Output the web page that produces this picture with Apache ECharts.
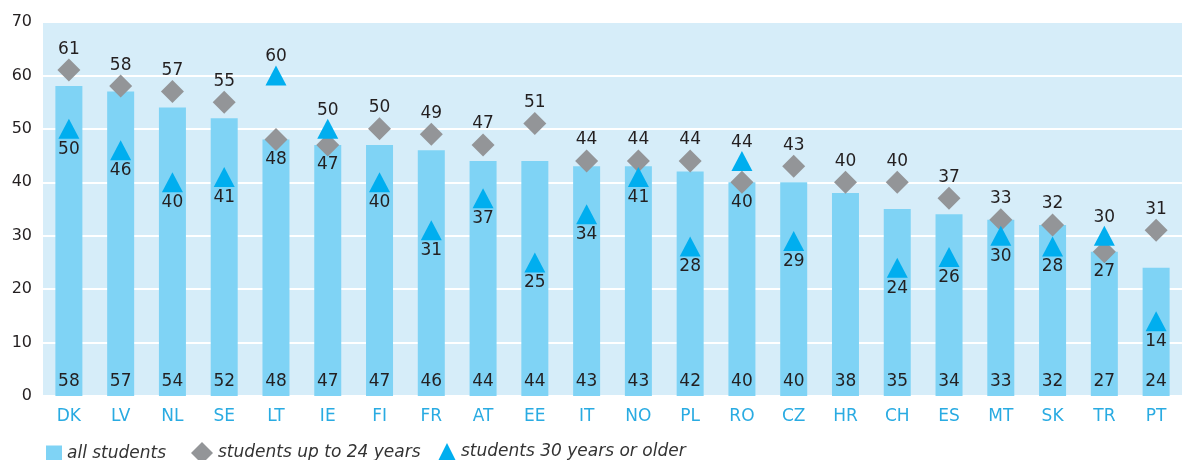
<!DOCTYPE html>
<html>
<head>
<meta charset="utf-8">
<script src="https://cdn.jsdelivr.net/npm/echarts@6/dist/echarts.min.js"></script>
<style>
  html, body { margin: 0; padding: 0; background: #ffffff; }
  #chart { width: 1182px; height: 460px; }
</style>
</head>
<body>
<div id="chart"></div>
<script>
// Country codes along the category axis
const countries = ['DK', 'LV', 'NL', 'SE', 'LT', 'IE', 'FI', 'FR', 'AT', 'EE', 'IT',
                   'NO', 'PL', 'RO', 'CZ', 'HR', 'CH', 'ES', 'MT', 'SK', 'TR', 'PT'];
// Share (%) for all students
const allStudents = [58, 57, 54, 52, 48, 47, 47, 46, 44, 44, 43, 43, 42, 40, 40, 38, 35, 34, 33, 32, 27, 24];
// Share (%) for students up to 24 years
const upTo24 = [61, 58, 57, 55, 48, 47, 50, 49, 47, 51, 44, 44, 44, 40, 43, 40, 40, 37, 33, 32, 27, 31];
// Share (%) for students 30 years or older (no value for HR)
const over30 = [50, 46, 40, 41, 60, 50, 40, 31, 37, 25, 34, 41, 28, 44, 29, null, 24, 26, 30, 28, 30, 14];
// Value-axis ticks
const yTicks = [0, 10, 20, 30, 40, 50, 60, 70];

const names = ['all students', 'students up to 24 years', 'students 30 years or older'];
const FONT = 'DejaVu Sans';
const TEXT = '#231f20';
const BAR = '#7fd3f5';
const DIAMOND = '#939598';
const TRIANGLE = '#00aeef';

// Labels: the higher marker of a pair is labelled above, the lower one below
const diamondData = upTo24.map((v, i) => {
  const t = over30[i];
  const above = t == null || v >= t;
  return {
    value: v,
    label: { position: above ? 'top' : 'bottom', distance: above ? 1 : 0 }
  };
});
const triangleData = over30.map((v, i) => {
  if (v == null) return '-';
  const above = v > upTo24[i];
  return {
    value: v,
    label: { position: above ? 'top' : 'bottom', distance: above ? 0 : 2 }
  };
});

const labelStyle = { show: true, color: TEXT, fontFamily: FONT, fontSize: 17 };

function legendItem(left, top, name, icon, w, h, color) {
  return {
    left: left, top: top,
    itemWidth: w, itemHeight: h,
    data: [{ name: name, icon: icon, itemStyle: { color: color, opacity: 1 } }],
    textStyle: { color: '#333', fontFamily: FONT, fontSize: 17, fontStyle: 'italic' },
    padding: 0
  };
}

const chart = echarts.init(document.getElementById('chart'), null, { renderer: 'canvas' });
chart.setOption({
  animation: false,
  backgroundColor: '#ffffff',
  grid: {
    left: 43, top: 22, width: 1146, height: 374,
    show: true, backgroundColor: '#d6edf9', borderWidth: 0
  },
  legend: [
    legendItem(46, 445, names[0], 'rect', 16, 16, BAR),
    legendItem(191, 442, names[1], 'diamond', 22, 22, DIAMOND),
    legendItem(438, 443, names[2], 'triangle', 18, 18, TRIANGLE)
  ],
  xAxis: {
    type: 'category',
    data: countries,
    axisLine: { show: false },
    axisTick: { show: false },
    axisLabel: { color: '#29abe2', fontFamily: FONT, fontSize: 17, margin: 12 }
  },
  yAxis: {
    type: 'value',
    min: yTicks[0], max: yTicks[yTicks.length - 1], interval: 10,
    axisLine: { show: false },
    axisTick: { show: false },
    axisLabel: { color: TEXT, fontFamily: FONT, fontSize: 16, margin: 11 },
    splitLine: { show: true, lineStyle: { color: '#ffffff', width: 2 } }
  },
  series: [
    {
      name: names[0],
      type: 'bar',
      data: allStudents,
      barWidth: 27,
      itemStyle: { color: BAR },
      label: Object.assign({}, labelStyle, { position: 'insideBottom', distance: 6 }),
      z: 2
    },
    {
      name: names[1],
      type: 'scatter',
      data: diamondData,
      symbol: 'diamond',
      symbolSize: 23,
      itemStyle: { color: DIAMOND, opacity: 1 },
      label: labelStyle,
      z: 3
    },
    {
      name: names[2],
      type: 'scatter',
      data: triangleData,
      symbol: 'triangle',
      symbolSize: [21, 20],
      itemStyle: { color: TRIANGLE, opacity: 1 },
      label: labelStyle,
      z: 4
    }
  ]
});
</script>
</body>
</html>
